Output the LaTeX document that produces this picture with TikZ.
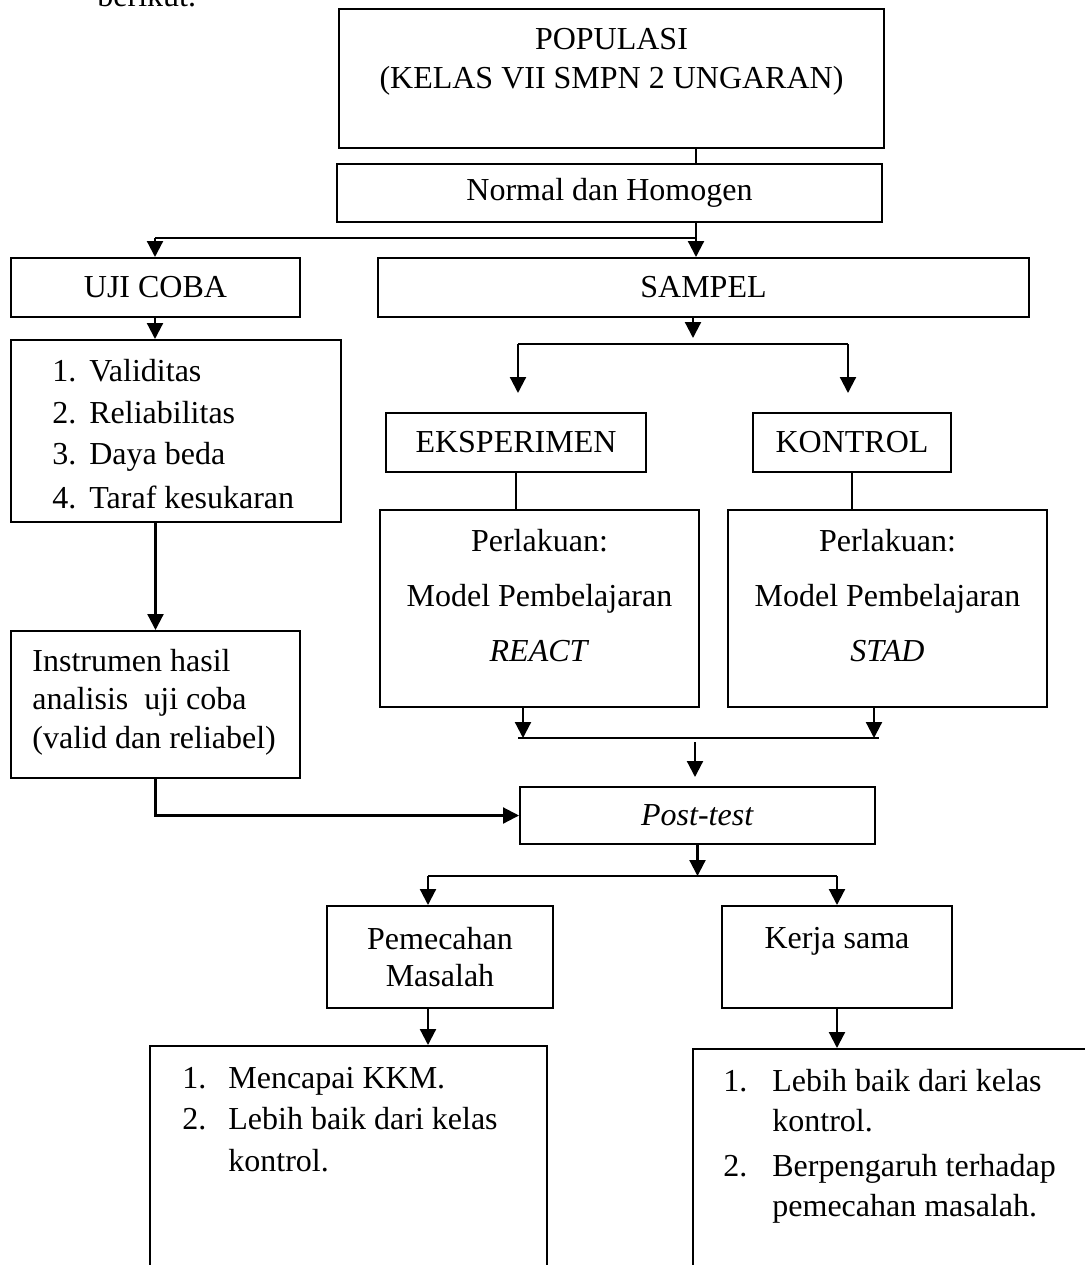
\documentclass[tikz,border=0pt]{standalone}
\usepackage{fontspec}
\setmainfont{Liberation Serif}
\usepackage{tikz}
\usetikzlibrary{arrows.meta,calc,positioning}
\tikzset{%
	kotak/.style = {draw, rectangle, line width=1pt, inner sep=0pt, text centered},
	garis/.style = {line width=1.2pt},
	panah/.style = {line width=1.1pt, -{Triangle[length=8pt,width=8pt]}},
	teks/.style  = {inner sep=0pt},
}
\newcommand{\ukuran}[1]{\fontsize{16pt}{#1}\selectfont}

\begin{document}
\begin{tikzpicture}[x=0.5pt,y=-0.5pt,font=\ukuran{19pt}]
	\useasboundingbox (0,0) rectangle (1085,1265);
	\node[teks, anchor=base west] (berikut) at (97,6) {berikut.};
	
	% kotak-kotak
	\node[kotak, minimum width=272.5pt, minimum height=69.5pt] (populasi) at (611.5,78.5) {};
	\node[teks, align=center, font=\ukuran{19.5pt}] (populasiisi) at (611.5,62) {POPULASI\\(KELAS VII SMPN 2 UNGARAN)};
	\node[kotak, minimum width=272.5pt, minimum height=29pt] (normal) at (609.5,193) {Normal dan Homogen};
	\node[kotak, minimum width=144.5pt, minimum height=29.5pt] (ujicoba) at (155.5,287.5) {UJI COBA};
	\node[kotak, minimum width=325.5pt, minimum height=29.5pt] (sampel) at (703.5,287.5) {SAMPEL};
	\node[kotak, minimum width=165pt, minimum height=91pt] (daftar) at (176,431) {};
	\foreach \no/\isi/\y [count=\i] in {1./Validitas/381, 2./Reliabilitas/423, 3./Daya beda/464, 4./Taraf kesukaran/508}
		\node[teks, anchor=base west] (uji\i) at (52,\y) {\makebox[18.5pt][l]{\no}\isi};
	\node[kotak, minimum width=144.5pt, minimum height=73.5pt] (instrumen) at (155.5,704.5) {};
	\node[teks, anchor=west, align=left, font=\ukuran{19.25pt}] (instrumenisi) at (32,702) {Instrumen hasil\\analisis\ \ uji coba\\(valid dan reliabel)};
	\node[kotak, minimum width=130pt, minimum height=29.5pt] (eksperimen) at (516,442.5) {EKSPERIMEN};
	\node[kotak, minimum width=99pt, minimum height=29.5pt] (kontrol) at (852,442.5) {KONTROL};
	\node[kotak, minimum width=159.5pt, minimum height=98.5pt] (perlakuanA) at (539.5,608.5) {};
	\node[teks, align=center, font=\ukuran{27.5pt}] (perlakuanAisi) at (539.5,596) {Perlakuan:\\Model Pembelajaran\\\textit{REACT}};
	\node[kotak, minimum width=159.5pt, minimum height=98.5pt] (perlakuanB) at (887.5,608.5) {};
	\node[teks, align=center, font=\ukuran{27.5pt}] (perlakuanBisi) at (887.5,596) {Perlakuan:\\Model Pembelajaran\\\textit{STAD}};
	\node[kotak, minimum width=177.5pt, minimum height=28.5pt] (posttest) at (697.5,815.5) {\textit{Post-test}};
	\node[kotak, align=center, font=\ukuran{18.5pt}, minimum width=113pt, minimum height=51pt] (pemecahan) at (440,957) {Pemecahan\\Masalah};
	\node[kotak, minimum width=115pt, minimum height=51pt] (kerja) at (837,957) {};
	\node[teks, anchor=base] (kerjaisi) at (837,948) {Kerja sama};
	\node[kotak, minimum width=198.5pt, minimum height=127pt] (hasilA) at (348.5,1173) {};
	\foreach \no/\isi/\y [count=\i] in {1./Mencapai KKM./1088, 2./Lebih baik dari kelas/1129, /kontrol./1171}
		\node[teks, anchor=base west] (hasilA\i) at (182,\y) {\makebox[23pt][l]{\no}\isi};
	\node[kotak, minimum width=203.5pt, minimum height=125.5pt] (hasilB) at (896.5,1174.5) {};
	\foreach \no/\isi/\y [count=\i] in {1./Lebih baik dari kelas/1091, /kontrol./1131, 2./Berpengaruh terhadap/1176, /pemecahan masalah./1216}
		\node[teks, anchor=base west] (hasilB\i) at (723,\y) {\makebox[24.5pt][l]{\no}\isi};
	
	% titik bantu
	\coordinate (tengah) at (696,0);
	\coordinate (cabangA) at (155,238);
	\coordinate (ujungS) at (693,338);
	\coordinate (cabangB1) at (518,344);
	\coordinate (cabangB2) at (848,344);
	\coordinate (ujungB) at (0,393);
	\coordinate (turunA) at (523,738);
	\coordinate (turunB) at (874,738);
	\coordinate (gabung1) at (518,738);
	\coordinate (gabung2) at (879,738);
	\coordinate (atasP) at (695,742);
	\coordinate (ujungP) at (695,777);
	\coordinate (cabangC1) at (428,876);
	\coordinate (cabangC2) at (837,876);
	
	% penghubung
	\draw[garis] (populasi.south -| tengah) -- (normal.north -| tengah);
	\draw[panah] (normal.south -| tengah) -- (sampel.north -| tengah);
	\draw[garis] (cabangA) -- (cabangA -| tengah);
	\draw[panah] (cabangA) -- (ujicoba.north -| cabangA);
	\draw[panah] (ujicoba.south -| cabangA) -- (daftar.north -| cabangA);
	\draw[panah] (daftar.south -| instrumen.north) -- (instrumen.north);
	\draw[panah] (instrumen.south) |- (posttest.west);
	
	\draw[panah] (sampel.south -| ujungS) -- (ujungS);
	\draw[garis] (cabangB1) -- (cabangB2);
	\draw[panah] (cabangB1) -- (cabangB1 |- ujungB);
	\draw[panah] (cabangB2) -- (cabangB2 |- ujungB);
	\draw[garis] (eksperimen.south) -- (eksperimen.south |- perlakuanA.north);
	\draw[garis] (kontrol.south) -- (kontrol.south |- perlakuanB.north);
	
	\draw[panah] (perlakuanA.south -| turunA) -- (turunA);
	\draw[panah] (perlakuanB.south -| turunB) -- (turunB);
	\draw[garis] (gabung1) -- (gabung2);
	\draw[panah] (atasP) -- (ujungP);
	
	\draw[panah] (posttest.south) -- (posttest.south |- cabangC1);
	\draw[garis] (cabangC1) -- (cabangC2);
	\draw[panah] (cabangC1) -- (pemecahan.north -| cabangC1);
	\draw[panah] (cabangC2) -- (kerja.north -| cabangC2);
	\draw[panah] (pemecahan.south -| cabangC1) -- (hasilA.north -| cabangC1);
	\draw[panah] (kerja.south -| cabangC2) -- (hasilB.north -| cabangC2);
\end{tikzpicture}
\end{document}
